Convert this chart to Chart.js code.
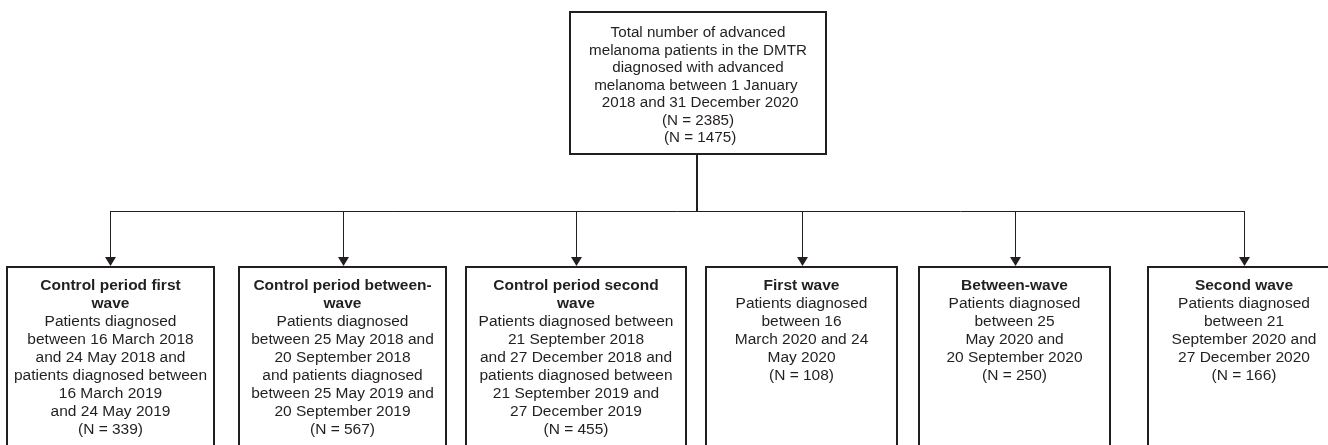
<!DOCTYPE html>
<html>
<head>
<meta charset="utf-8">
<script src="https://cdn.jsdelivr.net/npm/chart.js@4/dist/chart.umd.min.js"></script>
<style>
    html, body { margin: 0; padding: 0; background: #fff; }
    #wrap { position: relative; width: 1328px; height: 445px; }
</style>
</head>
<body>
<div id="wrap"><canvas id="flowChart"></canvas></div>
<script>
// Flow chart content
const topLines = [
    'Total number of advanced',
    'melanoma patients in the DMTR',
    'diagnosed with advanced',
    'melanoma between 1 January ',
    ' 2018 and 31 December 2020'
];
const topCounts = ['(N = 2385)', ' (N = 1475)'];

const groupTitles = [
    ['Control period first', 'wave'],
    ['Control period between-', 'wave'],
    ['Control period second', 'wave'],
    ['First wave'],
    ['Between-wave'],
    ['Second wave']
];
const groupPeriods = [
    ['Patients diagnosed', 'between 16 March 2018', 'and 24 May 2018 and', 'patients diagnosed between', '16 March 2019', 'and 24 May 2019'],
    ['Patients diagnosed', 'between 25 May 2018 and', '20 September 2018', 'and patients diagnosed', 'between 25 May 2019 and', '20 September 2019'],
    ['Patients diagnosed between', '21 September 2018', 'and 27 December 2018 and', 'patients diagnosed between', '21 September 2019 and', '27 December 2019'],
    ['Patients diagnosed', 'between 16', 'March 2020 and 24', 'May 2020'],
    ['Patients diagnosed', 'between 25', 'May 2020 and', '20 September 2020'],
    ['Patients diagnosed', 'between 21', 'September 2020 and', '27 December 2020']
];
const groupCounts = [339, 567, 455, 108, 250, 166];

// layout in page units (the linear scales run 0..1328 and 0..445)
const topBox = { x0: 570, x1: 826, y0: 12, y1: 154 };
const boxXs = [[7, 214], [239, 446], [466, 686], [706, 897], [919, 1110], [1148, 1340]];
const boxTop = 267;
const boxBottom = 470;
const branchY = 211;

const INK = '#231f20';
const FONT = '"Liberation Sans", Arial, Helvetica, sans-serif';

const flowPlugin = {
    id: 'flow',
    afterDraw(chart) {
        const ctx = chart.ctx;
        const sx = chart.scales.x, sy = chart.scales.y;
        const X = v => sx.getPixelForValue(v);
        const Y = v => sy.getPixelForValue(v);

        ctx.save();
        ctx.strokeStyle = INK;
        ctx.fillStyle = INK;
        ctx.textAlign = 'center';
        ctx.textBaseline = 'middle';

        // top box
        ctx.lineWidth = 2;
        ctx.strokeRect(X(topBox.x0), Y(topBox.y0), X(topBox.x1) - X(topBox.x0), Y(topBox.y1) - Y(topBox.y0));
        const topCx = (topBox.x0 + topBox.x1) / 2;
        ctx.font = '15.2px ' + FONT;
        topLines.concat(topCounts).forEach((t, i) => {
            ctx.fillText(t, X(topCx), Y(topBox.y0 + 21 + i * 17.5));
        });

        // trunk
        ctx.beginPath();
        ctx.moveTo(X(topCx - 1), Y(topBox.y1));
        ctx.lineTo(X(topCx - 1), Y(branchY));
        ctx.stroke();

        const centers = boxXs.map(b => (b[0] + b[1]) / 2);

        // branch line
        ctx.lineWidth = 1;
        ctx.beginPath();
        ctx.moveTo(X(centers[0]), Y(branchY) + 0.5);
        ctx.lineTo(X(centers[centers.length - 1]), Y(branchY) + 0.5);
        ctx.stroke();

        centers.forEach((cx, i) => {
            const px = Math.round(X(cx)) + 0.5;
            // arrow shaft
            ctx.lineWidth = 1;
            ctx.beginPath();
            ctx.moveTo(px, Y(branchY));
            ctx.lineTo(px, Y(boxTop) - 8);
            ctx.stroke();
            // arrow head
            ctx.beginPath();
            ctx.moveTo(px - 5.5, Y(boxTop) - 10);
            ctx.lineTo(px + 5.5, Y(boxTop) - 10);
            ctx.lineTo(px, Y(boxTop) - 1);
            ctx.closePath();
            ctx.fill();

            // box
            const [x0, x1] = boxXs[i];
            ctx.lineWidth = 2;
            ctx.strokeRect(X(x0), Y(boxTop), X(x1) - X(x0), Y(boxBottom) - Y(boxTop));

            // text
            let row = 0;
            const lineY = r => Y(boxTop + 19 + r * 18);
            ctx.font = 'bold 15.5px ' + FONT;
            groupTitles[i].forEach(t => { ctx.fillText(t, X(cx), lineY(row++)); });
            ctx.font = '15.5px ' + FONT;
            groupPeriods[i].forEach(t => { ctx.fillText(t, X(cx), lineY(row++)); });
            ctx.fillText('(N = ' + groupCounts[i] + ')', X(cx), lineY(row));
        });

        ctx.restore();
    }
};

new Chart(document.getElementById('flowChart'), {
    type: 'scatter',
    data: { datasets: [{ data: [], pointRadius: 0 }] },
    options: {
        responsive: true,
        maintainAspectRatio: false,
        animation: false,
        layout: { padding: 0 },
        plugins: { legend: { display: false }, tooltip: { enabled: false } },
        scales: {
            x: { type: 'linear', min: 0, max: 1328, display: false },
            y: { type: 'linear', min: 0, max: 445, reverse: true, display: false }
        }
    },
    plugins: [flowPlugin]
});
</script>
</body>
</html>
